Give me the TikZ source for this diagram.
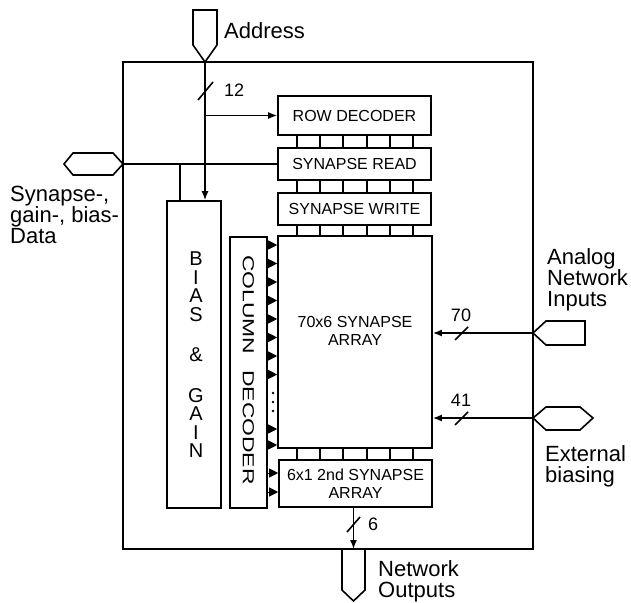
\documentclass[tikz,border=0pt]{standalone}
\usepackage{fontspec}
\usepackage{graphicx}
\setmainfont{Liberation Sans}
\usetikzlibrary{arrows.meta, positioning}
\tikzset{block/.style = {draw, line width = 1.6pt, inner sep = 0pt, font = \fontsize{16}{18}\selectfont, align = center}}
\tikzset{wire/.style = {line width = 1.6pt}}
\tikzset{bus/.style = {wire, -{Latex[length = 9pt, width = 7pt]}}}
\tikzset{select/.style = {line width = 1pt, -{Triangle[length = 9pt, width = 9pt]}}}
\tikzset{port/.style = {line width = 1.6pt, fill = white}}
\tikzset{tag/.style = {font = \fontsize{22}{21}\selectfont, align = left, inner sep = 0pt}}
\tikzset{count/.style = {font = \fontsize{18}{18}\selectfont, inner sep = 0pt}}

\begin{document}
\begin{tikzpicture}[x = 1pt, y = -1pt]
	\useasboundingbox (0, 0) rectangle (631, 602);
	\draw[wire] (123, 62) rectangle (533, 549);

	% blocks
	\node[block, minimum width = 153pt, minimum height = 39pt] (rowdec) at (354.5, 115.5) {ROW DECODER};
	\node[block, minimum width = 153pt, minimum height = 32pt] (synread) at (354.5, 164) {SYNAPSE READ};
	\node[block, minimum width = 153pt, minimum height = 32pt] (synwrite) at (354.5, 209) {SYNAPSE WRITE};
	\node[block, minimum width = 154pt, minimum height = 212pt] (arr) at (355, 342) {};
	\node[font = \fontsize{16}{18}\selectfont, align = center] (arrtxt) at (355, 331) {70x6 SYNAPSE\\ARRAY};
	\node[block, minimum width = 153pt, minimum height = 47pt] (arr2) at (355.5, 483.5) {6x1 2nd SYNAPSE\\ARRAY};
	\node[block, minimum width = 54pt, minimum height = 307pt] (bias) at (194, 354.5) {};
	\node[font = \fontsize{20}{18.5}\selectfont, align = center, inner sep = 0pt, anchor = north] (biastxt) at (196, 252) {B\\I\\A\\S\\[22pt]\&\\[22pt]G\\A\\I\\N};
	\node[block, minimum width = 37pt, minimum height = 271pt] (coldec) at (248.5, 372.5) {};
	\node[rotate = -90, inner sep = 0pt, font = \fontsize{16}{16}\selectfont] (coltxt) at (248.5, 370) {\scalebox{1.43}[1]{COLUMN\hspace{0.7em}DECODER}};

	% bus ladders
	\foreach \x in {297, 320, 343, 367, 390, 413} {
		\coordinate (lad) at (\x, 0);
		\draw[wire] (rowdec.south -| lad) -- (synread.north -| lad);
		\draw[wire] (synread.south -| lad) -- (synwrite.north -| lad);
		\draw[wire] (synwrite.south -| lad) -- (arr.north -| lad);
		\draw[wire] (arr.south -| lad) -- (arr2.north -| lad);
	}

	% column select lines
	\foreach \y in {245, 263.5, 282, 300.5, 319, 337.5, 356, 374.5, 429, 445} {
		\coordinate (tap) at (0, \y);
		\draw[select] (coldec.east |- tap) -- (arr.west |- tap);
	}
	\foreach \y in {473, 492} {
		\coordinate (tap) at (0, \y);
		\draw[select] (coldec.east |- tap) -- (arr2.west |- tap);
	}
	\foreach \y in {393, 402, 411}
		\fill (273, \y) circle (1.4pt);

	% address
	\draw[port] (193, 10) -- (217, 10) -- (217, 45) -- (205, 62) -- (193, 45) -- cycle;
	\coordinate (addr) at (205, 62);
	\draw[bus] (addr) -- (addr |- bias.north);
	\draw[wire] (198, 100) -- (213, 82);
	\node[count, anchor = west] (n12) at (224, 90) {12};
	\coordinate (split) at (addr |- rowdec.west);
	\draw[bus] (split) -- (rowdec.west);
	\node[tag, anchor = base west] (addrlbl) at (224, 39) {Address};

	% data
	\draw[port] (64, 164) -- (73, 153) -- (113, 153) -- (123, 164) -- (113, 175) -- (73, 175) -- cycle;
	\coordinate (data) at (123, 164);
	\draw[wire] (data) -- (synread.west);
	\coordinate (tee) at (180, 164);
	\draw[wire] (tee) -- (tee |- bias.north);
	\node[tag, anchor = north west] (datalbl) at (10, 186) {Synapse-,\\gain-, bias-\\Data};

	% analog inputs
	\draw[port] (533, 333) -- (546, 321) -- (585, 321) -- (585, 345) -- (546, 345) -- cycle;
	\coordinate (ain) at (533, 333);
	\draw[bus] (ain) -- (arr.east |- ain);
	\draw[wire] (455, 340) -- (468, 327);
	\node[count] (n70) at (461, 315) {70};
	\node[tag, anchor = north west] (ainlbl) at (547, 248) {Analog\\Network\\Inputs};

	% external biasing
	\draw[port] (533, 418) -- (546, 407) -- (580, 407) -- (593, 418) -- (580, 430) -- (546, 430) -- cycle;
	\coordinate (bin) at (533, 418);
	\draw[bus] (bin) -- (arr.east |- bin);
	\draw[wire] (455, 425) -- (468, 412);
	\node[count] (n41) at (461, 400) {41};
	\node[tag, anchor = north west] (binlbl) at (545, 445) {External\\biasing};

	% outputs
	\coordinate (outp) at (353.5, 549);
	\draw[bus] (arr2.south -| outp) -- (outp);
	\draw[wire] (347, 532) -- (360, 517);
	\node[count] (n6) at (373, 524) {6};
	\draw[port] (342, 549) -- (365, 549) -- (365, 590) -- (353.5, 601) -- (342, 590) -- cycle;
	\node[tag, anchor = north west] (outlbl) at (378, 560) {Network\\Outputs};
\end{tikzpicture}
\end{document}
